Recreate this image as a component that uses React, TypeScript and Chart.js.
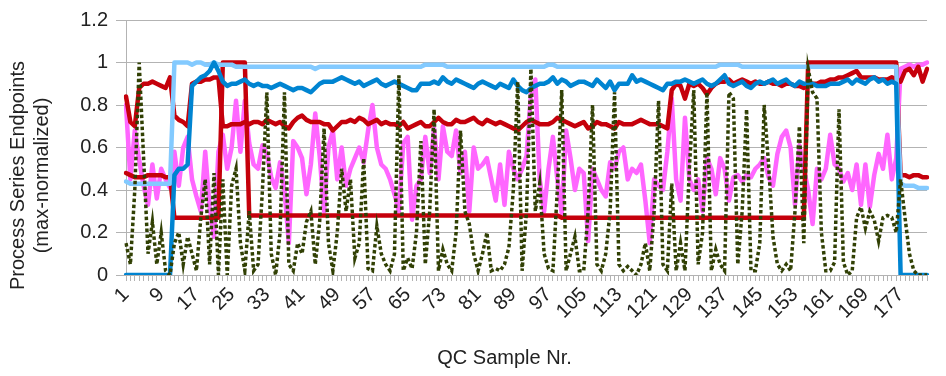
import React, { useEffect, useRef } from 'react';
import { Chart, registerables } from 'chart.js';

Chart.register(...registerables);

// Upper dark-red series
const redUpper = [
  0.84, 0.72, 0.70, 0.88, 0.90, 0.90, 0.91, 0.90, 0.89, 0.88, 0.93, 0.75, 0.73, 0.72, 0.70, 0.90, 0.91, 0.91, 0.92, 0.92, 0.93, 0.93, 0.70, 0.70, 0.71,
  0.71, 0.71, 0.72, 0.71, 0.72, 0.72, 0.71, 0.73, 0.72, 0.71, 0.72, 0.70, 0.69, 0.72, 0.74, 0.75, 0.73, 0.72, 0.72, 0.72, 0.71, 0.71, 0.68, 0.70, 0.72, 0.72, 0.73,
  0.72, 0.74, 0.73, 0.71, 0.72, 0.73, 0.71, 0.72, 0.71, 0.71, 0.70, 0.72, 0.69, 0.70, 0.71, 0.72, 0.70, 0.70, 0.72, 0.74, 0.72, 0.71, 0.71, 0.73, 0.72, 0.72,
  0.73, 0.74, 0.72, 0.71, 0.73, 0.72, 0.71, 0.72, 0.71, 0.70, 0.69, 0.68, 0.70, 0.72, 0.73, 0.72, 0.71, 0.71, 0.71, 0.72, 0.74, 0.73, 0.72, 0.71, 0.70, 0.71,
  0.72, 0.69, 0.70, 0.72, 0.71, 0.71, 0.70, 0.69, 0.72, 0.71, 0.71, 0.71, 0.72, 0.73, 0.72, 0.71, 0.71, 0.71, 0.70, 0.69,
  0.87, 0.90, 0.89, 0.83, 0.90,
  0.89, 0.90, 0.88, 0.85, 0.88, 0.90, 0.91, 0.91, 0.92, 0.90, 0.91, 0.92, 0.91, 0.90, 0.91, 0.90, 0.90, 0.91, 0.90, 0.90, 0.89, 0.90, 0.90, 0.89, 0.89, 0.88, 0.90,
  0.90, 0.90, 0.91, 0.91, 0.92, 0.92, 0.93, 0.93, 0.94, 0.95, 0.96, 0.93, 0.93, 0.93, 0.93, 0.92, 0.92, 0.92, 0.93, 0.92, 0.91, 0.96, 0.97, 0.94, 0.98, 0.91, 0.97,
];

// Stepped dark-red series
const redSteps = [
  0.48, 0.47, 0.46, 0.46, 0.46, 0.47, 0.47, 0.47, 0.47, 0.46, 0.46,
  0.27, 0.27, 0.27, 0.27, 0.27, 0.27, 0.27, 0.27, 0.27, 0.27, 0.27,
  1, 1, 1, 1, 1, 1,
  0.28, 0.28, 0.28, 0.28, 0.28, 0.28, 0.28, 0.28, 0.28, 0.28,
  0.28, 0.28, 0.28, 0.28, 0.28, 0.28, 0.28, 0.28, 0.28, 0.28,
  0.28, 0.28, 0.28, 0.28, 0.28, 0.28, 0.28, 0.28, 0.28, 0.28,
  0.28, 0.28, 0.28, 0.28, 0.28, 0.28, 0.28, 0.28, 0.28, 0.28,
  0.28, 0.28, 0.28, 0.28, 0.28, 0.28, 0.28, 0.28, 0.28, 0.28,
  0.28, 0.28, 0.28, 0.28, 0.28, 0.28, 0.28, 0.28, 0.28, 0.28,
  0.28, 0.28, 0.28, 0.28, 0.28, 0.28, 0.28, 0.28, 0.28, 0.28,
  0.28, 0.27, 0.27,
  0.27, 0.27, 0.27, 0.27, 0.27, 0.27, 0.27, 0.27, 0.27, 0.27,
  0.27, 0.27, 0.27, 0.27, 0.27, 0.27, 0.27, 0.27, 0.27, 0.27,
  0.27, 0.27, 0.27, 0.27, 0.27, 0.27, 0.27, 0.27, 0.27, 0.27,
  0.27, 0.27, 0.27, 0.27, 0.27, 0.27, 0.27, 0.27, 0.27, 0.27,
  0.27, 0.27, 0.27, 0.27, 0.27, 0.27, 0.27, 0.27, 0.27, 0.27,
  0.27, 0.27, 0.27, 0.27,
  1, 1, 1, 1, 1, 1, 1, 1, 1, 1, 1, 1, 1, 1, 1, 1, 1, 1, 1, 1, 1,
  0.47, 0.47, 0.46, 0.47, 0.47, 0.46, 0.46,
];

// Light-blue series
const lightBlue = [
  0.44, 0.43, 0.43, 0.43, 0.43, 0.43, 0.43, 0.43, 0.43, 0.43, 0.43,
  1, 1, 1, 1, 0.99, 1, 1, 0.99, 0.99, 1,
  0.99, 0.99, 0.99, 0.99, 0.98, 0.98, 0.98, 0.98, 0.98, 0.98,
  0.98, 0.98, 0.98, 0.98, 0.98, 0.98, 0.98, 0.98, 0.98, 0.98,
  0.98, 0.98, 0.97, 0.98, 0.98, 0.98, 0.98, 0.98, 0.98, 0.98,
  0.98, 0.98, 0.98, 0.98, 0.98, 0.98, 0.98, 0.98, 0.98, 0.98,
  0.98, 0.98, 0.98, 0.98, 0.98, 0.98, 0.98, 0.99, 0.99, 0.99,
  0.99, 0.99, 0.98, 0.98, 0.98, 0.98, 0.98, 0.98, 0.98, 0.98,
  0.98, 0.98, 0.98, 0.98, 0.98, 0.98, 0.98, 0.98, 0.98, 0.98,
  0.98, 0.98, 0.98, 0.98, 0.98, 0.99, 0.99, 0.98, 0.98, 0.98,
  0.98, 0.98, 0.98, 0.98, 0.98, 0.98, 0.98, 0.98, 0.98, 0.98,
  0.98, 0.98, 0.98, 0.98, 0.98, 0.98, 0.98, 0.98, 0.98, 0.98,
  0.98, 0.98, 0.98, 0.98, 0.98, 0.98, 0.98, 0.98, 0.98, 0.98,
  0.98, 0.98, 0.98, 0.98, 0.99, 0.99, 0.99, 0.99, 0.99, 0.98,
  0.98, 0.98, 0.98, 0.98, 0.98, 0.98, 0.98, 0.98, 0.98, 0.98,
  0.98, 0.98, 0.98, 0.98, 0.98, 0.98, 0.98, 0.98, 0.98, 0.98,
  0.98, 0.98, 0.98, 0.98, 0.98, 0.98, 0.98, 0.98, 0.98, 0.98,
  0.98, 0.98, 0.98, 0.98, 0.98,
  0.43, 0.42, 0.42, 0.42, 0.41, 0.41, 0.41,
];

// Medium-blue series
const blue = [
  0, 0, 0, 0, 0, 0, 0, 0, 0, 0, 0,
  0.47, 0.50, 0.50, 0.52, 0.89, 0.91, 0.93, 0.94, 0.96, 1.0, 0.96, 0.91, 0.89, 0.90,
  0.90, 0.91, 0.92, 0.90, 0.89, 0.90, 0.89, 0.89, 0.88, 0.89, 0.90, 0.89, 0.88, 0.87, 0.88, 0.88, 0.87, 0.86, 0.88, 0.90, 0.91, 0.91, 0.91, 0.92, 0.93, 0.92, 0.91,
  0.90, 0.91, 0.89, 0.90, 0.91, 0.92, 0.90, 0.89, 0.90, 0.91, 0.90, 0.89, 0.88, 0.87, 0.87, 0.90, 0.90, 0.90, 0.91, 0.90, 0.93, 0.91, 0.90, 0.92, 0.91, 0.90,
  0.89, 0.88, 0.90, 0.91, 0.90, 0.89, 0.88, 0.90, 0.89, 0.88, 0.92, 0.89, 0.87, 0.86, 0.88, 0.89, 0.90, 0.90, 0.91, 0.93, 0.90, 0.92, 0.91, 0.89, 0.90, 0.91,
  0.91, 0.90, 0.89, 0.92, 0.90, 0.88, 0.91, 0.87, 0.90, 0.90, 0.90, 0.94, 0.91, 0.92, 0.91, 0.90, 0.89, 0.88, 0.87, 0.90, 0.90, 0.91, 0.91, 0.92, 0.91, 0.90,
  0.91, 0.92, 0.90, 0.89, 0.90, 0.92, 0.94, 0.90, 0.89, 0.90, 0.91, 0.89, 0.88, 0.90, 0.91, 0.90, 0.91, 0.92, 0.90, 0.91, 0.92, 0.90, 0.89, 0.91, 0.90, 0.90,
  0.90, 0.89, 0.89, 0.89, 0.90, 0.90, 0.90, 0.91, 0.92, 0.90, 0.92, 0.91, 0.90, 0.92, 0.93, 0.91, 0.92, 0.90, 0.91, 0.90,
  0, 0, 0, 0, 0, 0, 0,
];

// Magenta series
const magenta = [
  0.80, 0.45, 0.68, 0.54, 0.42, 0.33, 0.52, 0.36, 0.50, 0.45, 0.41, 0.58, 0.42, 0.60, 0.65, 0.45, 0.37, 0.30, 0.58, 0.32, 0.18, 0.58, 0.66, 0.50, 0.60,
  0.82, 0.58, 0.82, 0.62, 0.52, 0.50, 0.61, 0.57, 0.46, 0.41, 0.53, 0.40, 0.15, 0.63, 0.60, 0.55, 0.38, 0.52, 0.76, 0.56, 0.30, 0.60, 0.68, 0.45, 0.60, 0.42, 0.50,
  0.55, 0.60, 0.53, 0.68, 0.80, 0.60, 0.52, 0.50, 0.45, 0.38, 0.30, 0.62, 0.65, 0.26, 0.42, 0.45, 0.65, 0.48, 0.69, 0.45, 0.70, 0.58, 0.56, 0.68, 0.48, 0.58,
  0.30, 0.60, 0.50, 0.52, 0.55, 0.45, 0.35, 0.52, 0.33, 0.58, 0.50, 0.45, 0.50, 0.56, 0.85, 0.92, 0.45, 0.30, 0.50, 0.65, 0.45, 0.29, 0.68, 0.55, 0.40, 0.50,
  0.48, 0.16, 0.50, 0.45, 0.40, 0.37, 0.53, 0.50, 0.58, 0.60, 0.45, 0.50, 0.48, 0.52, 0.35, 0.15, 0.45, 0.42, 0.40, 0.58, 0.83, 0.45, 0.35, 0.74, 0.45, 0.40,
  0.45, 0.30, 0.55, 0.50, 0.38, 0.55, 0.50, 0.35, 0.46, 0.47, 0.44, 0.47, 0.46, 0.50, 0.52, 0.55, 0.46, 0.42, 0.57, 0.65, 0.68, 0.60, 0.33, 0.61, 0.50, 0.40,
  0.24, 0.50, 0.45, 0.50, 0.66, 0.52, 0.50, 0.44, 0.48, 0.40, 0.52, 0.33, 0.52, 0.32, 0.47, 0.57, 0.50, 0.66, 0.45, 0.55, 0.97, 0.98, 0.99, 0.98, 0.99, 0.99, 1.0,
];

// Dotted dark-olive series
const olive = [
  0.15, 0.05, 0.40, 1.00, 0.55, 0.10, 0.25, 0.05, 0.20, 0.02,
  0.00, 0.15, 0.20, 0.05, 0.18, 0.10, 0.02, 0.27, 0.45, 0.05,
  0.48, 0.00, 0.45, 0.00, 0.42, 0.50, 0.15, 0.02, 0.30, 0.02,
  0.05, 0.40, 0.86, 0.10, 0.00, 0.20, 0.86, 0.05, 0.02, 0.15,
  0.10, 0.25, 0.30, 0.05, 0.25, 0.69, 0.15, 0.02, 0.20, 0.50,
  0.30, 0.45, 0.08, 0.15, 0.55, 0.03, 0.02, 0.23, 0.10, 0.05,
  0.02, 0.10, 0.94, 0.02, 0.08, 0.03, 0.20, 0.63, 0.05, 0.30,
  0.78, 0.02, 0.12, 0.05, 0.02, 0.20, 0.68, 0.30, 0.24, 0.10,
  0.02, 0.10, 0.20, 0.02, 0.03, 0.02, 0.05, 0.13, 0.40, 0.91,
  0.02, 0.30, 0.97, 0.30, 0.43, 0.10, 0.03, 0.02, 0.40, 0.87,
  0.02, 0.10, 0.18, 0.02, 0.02, 0.30, 0.80, 0.05, 0.02, 0.10,
  0.30, 0.86, 0.05, 0.02, 0.04, 0.02, 0.00, 0.05, 0.15, 0.02,
  0.30, 0.82, 0.05, 0.02, 0.43, 0.02, 0.15, 0.02, 0.50, 0.87,
  0.05, 0.20, 0.86, 0.02, 0.12, 0.05, 0.02, 0.86, 0.83, 0.05,
  0.30, 0.78, 0.02, 0.02, 0.15, 0.80, 0.52, 0.18, 0.05, 0.02,
  0.05, 0.02, 0.30, 0.70, 0.15, 0.97, 0.86, 0.83, 0.20, 0.02,
  0.02, 0.06, 0.78, 0.06, 0.00, 0.02, 0.27, 0.32, 0.22, 0.30,
  0.26, 0.16, 0.27, 0.28, 0.27, 0.20, 0.45, 0.27, 0.10, 0.02,
  0.00, 0.00, 0.00,
];

const sampleNumbers = redUpper.map((_, i) => String(i + 1));
const shownXTicks = ['1', '9', '17', '25', '33', '41', '49', '57', '65', '73', '81', '89', '97', '105', '113', '121', '129', '137', '145', '153', '161', '169', '177'];
const yTickLabels = ['0', '0.2', '0.4', '0.6', '0.8', '1', '1.2'];
const xTitle = 'QC Sample Nr.';
const yTitle = ['Process Series Endpoints', '(max-normalized)'];

const FAMILY = '"Liberation Sans", Arial, sans-serif';
const RED = '#c5000b';

export default function App() {
  const ref = useRef<HTMLCanvasElement | null>(null);

  useEffect(() => {
    if (!ref.current) return;
    const titles = {
      id: 'axisTitlesCustom',
      afterDraw(chart: any) {
        const { ctx, chartArea } = chart;
        ctx.save();
        ctx.font = `20px ${FAMILY}`;
        ctx.fillStyle = '#222';
        ctx.textAlign = 'center';
        ctx.textBaseline = 'middle';
        const cx = (chartArea.left + chartArea.right) / 2 - 22;
        ctx.fillText(xTitle, cx, chart.height - 18);
        const cy = (chartArea.top + chartArea.bottom) / 2 + 28;
        yTitle.forEach((line, k) => {
          ctx.save();
          ctx.translate(18 + k * 24, cy);
          ctx.rotate(-Math.PI / 2);
          ctx.fillText(line, 0, 0);
          ctx.restore();
        });
        ctx.restore();
      },
    };

    const line = (data: number[], color: string, order: number, extra: any = {}) => ({
      data,
      borderColor: color,
      backgroundColor: color,
      borderWidth: 4.5,
      pointRadius: 0,
      tension: 0,
      fill: false,
      borderJoinStyle: 'round',
      borderCapStyle: 'round',
      order,
      ...extra,
    });

    const chart = new Chart(ref.current, {
      type: 'line',
      data: {
        labels: sampleNumbers,
        datasets: [
          line(olive, '#314004', 0, { borderWidth: 3.5, borderDash: [3.5, 2.5], borderCapStyle: 'butt', borderJoinStyle: 'miter' }),
          line(blue, '#0084d1', 1),
          line(lightBlue, '#83caff', 2),
          line(redUpper, RED, 3),
          line(redSteps, RED, 4),
          line(magenta, '#ff66ff', 5),
        ] as any,
      },
      options: {
        responsive: false,
        animation: false,
        layout: { padding: { left: 0, right: 2, top: 18, bottom: 0 } },
        plugins: { legend: { display: false }, tooltip: { enabled: false }, title: { display: false } },
        scales: {
          x: {
            type: 'category',
            offset: false,
            grid: { display: true, drawOnChartArea: false, drawTicks: true, tickLength: 6, color: '#b3b3b3' },
            border: { display: true, color: '#b3b3b3' },
            ticks: {
              autoSkip: false,
              maxRotation: 45,
              minRotation: 45,
              padding: 2,
              color: '#222',
              font: { family: FAMILY, size: 20 },
              callback: (_v: any, index: number) => {
                const l = sampleNumbers[index];
                return shownXTicks.includes(l) ? l : '';
              },
            },
            afterFit: (s: any) => { s.height = 101; },
          },
          y: {
            min: 0,
            max: 1.2,
            ticks: {
              stepSize: 0.2,
              padding: 8,
              color: '#222',
              font: { family: FAMILY, size: 20 },
              callback: (v: any) => yTickLabels[Math.round(Number(v) / 0.2)] ?? '',
            },
            grid: { color: '#b3b3b3', tickLength: 10 },
            border: { display: true, color: '#b3b3b3' },
            afterFit: (s: any) => { s.width = 126; },
          },
        },
      } as any,
      plugins: [titles],
    });
    return () => chart.destroy();
  }, []);

  return (
    <div style={{ position: 'fixed', left: 0, top: 0, width: 946, height: 376, background: '#fff' }}>
      <canvas ref={ref} width={946} height={376} style={{ display: 'block' }} />
    </div>
  );
}
